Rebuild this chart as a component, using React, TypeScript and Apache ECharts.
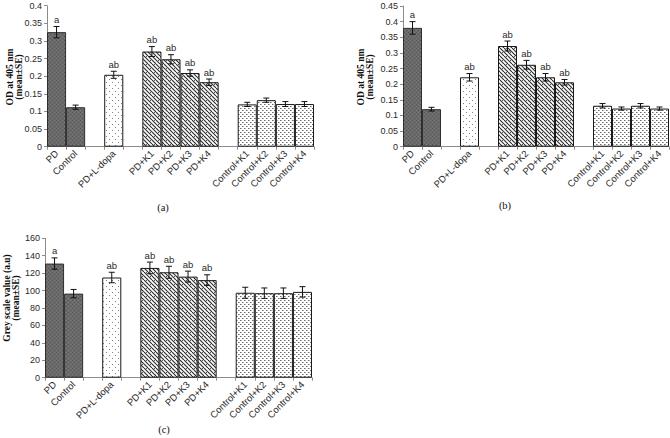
import React, { useEffect, useRef } from 'react';
import * as echarts from 'echarts';

// ---------- data ----------
const categories = ['PD', 'Control', ' ', 'PD+L-dopa', '  ', 'PD+K1', 'PD+K2', 'PD+K3', 'PD+K4', '   ', 'Control+K1', 'Control+K2', 'Control+K3', 'Control+K4'];
const fillKinds = ['dark', 'dark', null, 'dots', null, 'wave', 'wave', 'wave', 'wave', null, 'diamond', 'diamond', 'diamond', 'diamond'];
const sigTags = ['a', '', '', 'ab', '', 'ab', 'ab', 'ab', 'ab', '', '', '', '', ''];

const odA = [0.325, 0.112, null, 0.204, null, 0.270, 0.248, 0.209, 0.183, null, 0.120, 0.132, 0.121, 0.121];
const errA = [0.016, 0.006, null, 0.010, null, 0.014, 0.013, 0.009, 0.009, null, 0.006, 0.006, 0.007, 0.007];

const odB = [0.380, 0.120, null, 0.222, null, 0.322, 0.262, 0.222, 0.206, null, 0.131, 0.122, 0.131, 0.122];
const errB = [0.020, 0.006, null, 0.012, null, 0.016, 0.014, 0.012, 0.009, null, 0.007, 0.005, 0.007, 0.005];

const greyC = [131, 96.5, null, 115, null, 126, 121, 116, 112, null, 97.5, 97, 97, 98.5];
const errC = [6.5, 4.8, null, 6, null, 6.7, 6.9, 6.3, 6.1, null, 6.3, 6, 6, 6];

const yAxisA = { max: 0.4, interval: 0.05 };
const yAxisB = { max: 0.45, interval: 0.05 };
const yAxisC = { max: 160, interval: 20 };

// ---------- patterns ----------
function makeTile(kind: string): HTMLCanvasElement {
  const c = document.createElement('canvas');
  const size = kind === 'wave' ? 8 : kind === 'dots' ? 6 : 4;
  c.width = size;
  c.height = size;
  const g = c.getContext('2d')!;
  if (kind === 'dark') {
    g.fillStyle = '#6a6a6a';
    g.fillRect(0, 0, 4, 4);
    g.fillStyle = '#555555';
    g.fillRect(0, 0, 1, 1);
    g.fillRect(2, 2, 1, 1);
    g.fillStyle = '#7a7a7a';
    g.fillRect(2, 0, 1, 1);
    g.fillRect(0, 2, 1, 1);
  } else if (kind === 'dots') {
    g.fillStyle = '#ffffff';
    g.fillRect(0, 0, 6, 6);
    g.fillStyle = '#808080';
    g.fillRect(1, 1, 1, 1);
    g.fillRect(4, 4, 1, 1);
  } else if (kind === 'wave') {
    g.fillStyle = '#ffffff';
    g.fillRect(0, 0, 8, 8);
    g.strokeStyle = '#2a2a2a';
    g.lineWidth = 1.1;
    for (let o = -8; o <= 8; o += 4) {
      g.beginPath();
      g.moveTo(o, 0);
      g.lineTo(o + 8, 8);
      g.stroke();
    }
    g.fillStyle = '#555';
    g.fillRect(2, 0, 1, 1);
    g.fillRect(6, 4, 1, 1);
  } else {
    g.fillStyle = '#ffffff';
    g.fillRect(0, 0, 4, 4);
    g.fillStyle = '#6a6a6a';
    g.fillRect(0, 0, 1, 1);
    g.fillRect(2, 2, 1, 1);
    g.fillStyle = '#b0b0b0';
    g.fillRect(1, 0, 1, 1);
    g.fillRect(3, 2, 1, 1);
  }
  return c;
}

const TXT = '#2a2a2a';
const AXIS = '#8c8c8c';

export default function App() {
  const ref = useRef<HTMLDivElement>(null);
  useEffect(() => {
    document.body.style.margin = '0';
    const chart = echarts.init(ref.current!, null, { renderer: 'svg' });
    const tiles: Record<string, HTMLCanvasElement> = {
      dark: makeTile('dark'),
      dots: makeTile('dots'),
      wave: makeTile('wave'),
      diamond: makeTile('diamond'),
    };
    const fillOf = (k: string) => ({
      image: tiles[k],
      repeat: 'repeat',
      imageWidth: tiles[k].width,
      imageHeight: tiles[k].height,
    });

    const panels = [
      { vals: odA, errs: errA, y: yAxisA, grid: { left: 47, top: 5.7, width: 267, height: 141 } },
      { vals: odB, errs: errB, y: yAxisB, grid: { left: 403, top: 6, width: 266, height: 140.7 } },
      { vals: greyC, errs: errC, y: yAxisC, grid: { left: 45, top: 238.3, width: 267, height: 139.4 } },
    ];

    const grids: any[] = [];
    const xAxes: any[] = [];
    const yAxes: any[] = [];
    const series: any[] = [];

    panels.forEach((p, k) => {
      grids.push({ ...p.grid, containLabel: false });
      xAxes.push({
        type: 'category',
        gridIndex: k,
        data: categories,
        axisLine: { lineStyle: { color: AXIS, width: 1 } },
        axisTick: { show: true, length: 3, lineStyle: { color: AXIS } },
        axisLabel: {
          interval: 0,
          rotate: 45,
          margin: 5,
          color: TXT,
          fontSize: 9.5,
          fontFamily: 'Liberation Sans',
        },
      });
      yAxes.push({
        type: 'value',
        gridIndex: k,
        min: 0,
        max: p.y.max,
        interval: p.y.interval,
        splitLine: { show: false },
        axisLine: { show: true, lineStyle: { color: AXIS, width: 1 } },
        axisTick: { show: true, length: 3, lineStyle: { color: AXIS } },
        axisLabel: { color: TXT, fontSize: 9, fontFamily: 'Liberation Sans', margin: 5 },
      });
      series.push({
        type: 'bar',
        xAxisIndex: k,
        yAxisIndex: k,
        barWidth: '100%',
        barCategoryGap: '0%',
        data: p.vals.map((v, i) =>
          v == null
            ? '-'
            : {
                value: v,
                itemStyle: {
                  color: fillOf(fillKinds[i] as string),
                  borderColor: fillKinds[i] === 'dark' ? '#2e2e2e' : '#1a1a1a',
                  borderWidth: 1,
                },
              }
        ),
      });
      const errData: number[][] = [];
      p.vals.forEach((v, i) => {
        if (v != null) errData.push([i, v, p.errs[i] as number]);
      });
      series.push({
        type: 'custom',
        xAxisIndex: k,
        yAxisIndex: k,
        encode: { x: 0, y: 1 },
        z: 5,
        data: errData,
        renderItem: (params: any, api: any) => {
          const i = api.value(0);
          const v = api.value(1);
          const e = api.value(2);
          const top = api.coord([i, v + e]);
          const bot = api.coord([i, v - e]);
          const hw = 3;
          const ls = { stroke: '#111', lineWidth: 1 };
          const children: any[] = [
            { type: 'line', shape: { x1: top[0], y1: top[1], x2: bot[0], y2: bot[1] }, style: ls },
            { type: 'line', shape: { x1: top[0] - hw, y1: top[1], x2: top[0] + hw, y2: top[1] }, style: ls },
            { type: 'line', shape: { x1: bot[0] - hw, y1: bot[1], x2: bot[0] + hw, y2: bot[1] }, style: ls },
          ];
          const tag = sigTags[i];
          if (tag) {
            children.push({
              type: 'text',
              x: top[0],
              y: top[1] - 2,
              style: {
                text: tag,
                fill: TXT,
                font: '9.5px "Liberation Sans"',
                align: 'center',
                verticalAlign: 'bottom',
                textAlign: 'center',
                textVerticalAlign: 'bottom',
              },
            });
          }
          return { type: 'group', children };
        },
      });
    });

    const titleFont = 'bold 9.5px "Liberation Serif"';
    const capFont = '10.5px "Liberation Serif"';
    const vText = (text: string, x: number, y: number) => ({
      type: 'text',
      x,
      y,
      rotation: Math.PI / 2,
      style: { text, font: titleFont, fill: '#111', textAlign: 'center', textVerticalAlign: 'middle' },
    });
    const cap = (text: string, x: number, y: number) => ({
      type: 'text',
      x,
      y,
      style: { text, font: capFont, fill: '#111', textAlign: 'center', textVerticalAlign: 'middle' },
    });

    chart.setOption({
      animation: false,
      grid: grids,
      xAxis: xAxes,
      yAxis: yAxes,
      series,
      graphic: [
        vText('OD at 405 nm', 9.5, 77),
        vText('(mean±SE)', 18.5, 77),
        vText('OD at 405 nm', 361, 77),
        vText('(mean±SE)', 370, 77),
        vText('Grey scale value (a.u)', 7, 298),
        vText('(mean±SE)', 16, 298),
        cap('(a)', 163, 207),
        cap('(b)', 505, 205),
        cap('(c)', 164, 429),
      ],
    });
    return () => chart.dispose();
  }, []);
  return <div ref={ref} style={{ width: 670, height: 438 }} />;
}
